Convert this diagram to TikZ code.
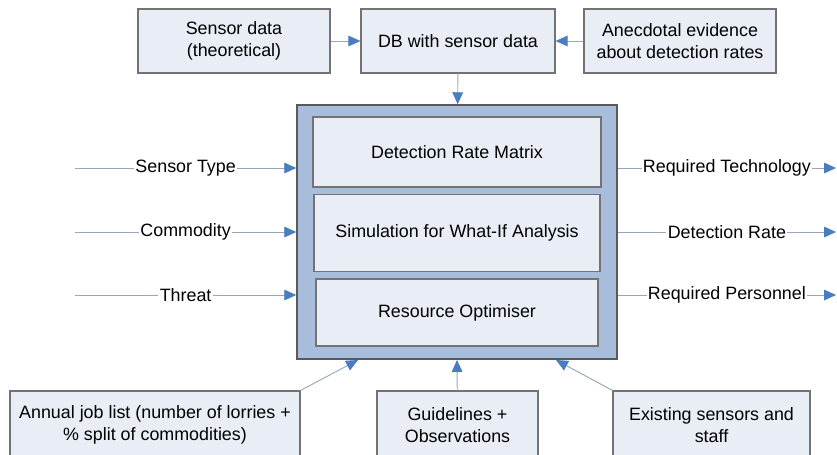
\documentclass[tikz,border=0pt]{standalone}
\usepackage{fontspec}
\setmainfont{Liberation Sans}
\usetikzlibrary{positioning,arrows.meta}
\definecolor{boxfill}{HTML}{E8EDF6}
\definecolor{outerfill}{HTML}{A8BCDC}
\definecolor{linegray}{HTML}{9AA6B6}
\definecolor{tipblue}{HTML}{4A7CC0}
\tikzset{
  box/.style={draw=black!55,fill=boxfill,line width=0.9pt,inner sep=0pt,align=center,font=\fontsize{13.4}{17}\selectfont},
  flow/.style={draw=linegray,line width=0.7pt,-{Triangle[length=9pt,width=8pt,color=tipblue]}},
  lbl/.style={fill=white,inner sep=1pt,font=\fontsize{13.4}{17}\selectfont}
}

\begin{document}
\begin{tikzpicture}[x=0.75pt,y=-0.75pt]
        \useasboundingbox (0,0) rectangle (837,454);
        \clip (0,0) rectangle (837,454);
        % sources on top
        \node(sensdata)[box,minimum width=144pt,minimum height=48pt] at (234,41) {Sensor data\\(theoretical)};
        \node(db)[box,minimum width=145.5pt,minimum height=48pt] at (458,41) {DB with sensor data};
        \node(anecdote)[box,minimum width=144pt,minimum height=48pt] at (680,41) {Anecdotal evidence\\about detection rates};
        % model
        \node(outer)[draw=black!65,fill=outerfill,line width=1.1pt,minimum width=240pt,minimum height=190.5pt] at (457,232) {};
        \node(drm)[box,minimum width=216pt,minimum height=52.5pt] at (457,152) {Detection Rate Matrix};
        \node(sim)[box,below =5pt of drm,minimum width=214.5pt,minimum height=57.75pt] {Simulation for What-If Analysis};
        \node(resopt)[box,below =4.5pt of sim,minimum width=211.5pt,minimum height=50.25pt] {Resource Optimiser};
        % inputs below (cut off by the lower edge)
        \node(annual)[box,minimum width=217.5pt,minimum height=51pt] at (155,425) {Annual job list (number of lorries +\\\% split of commodities)};
        \node(guide)[box,minimum width=120.75pt,minimum height=51pt] at (457.5,425) {Guidelines +\\Observations};
        \node(existing)[box,minimum width=147.75pt,minimum height=51pt] at (711.5,425) {Existing sensors and\\staff};
        \coordinate (inA) at (358,360);
        \coordinate (inB) at (457,360);
        \coordinate (inC) at (556,360);
        \coordinate (st) at (75,168);
        \coordinate (cm) at (75,232);
        \coordinate (th) at (75,295);
        \coordinate (rt) at (836,168);
        \coordinate (dr) at (836,232);
        \coordinate (rp) at (836,295);

        \draw[flow] (sensdata) -- (db);
        \draw[flow] (anecdote) -- (db);
        \draw[flow] (db) -- (outer);
        \draw[flow] (annual.north east) -- (inA);
        \draw[flow] (guide) -- (inB);
        \draw[flow] (existing.north west) -- (inC);
        \draw[flow] (st) -- node[lbl]{Sensor Type} (outer.west |- st);
        \draw[flow] (cm) -- node[lbl]{Commodity} (outer.west |- cm);
        \draw[flow] (th) -- node[lbl]{Threat} (outer.west |- th);
        \draw[flow] (outer.east |- rt) -- node[lbl]{Required Technology} (rt);
        \draw[flow] (outer.east |- dr) -- node[lbl]{Detection Rate} (dr);
        \draw[flow] (outer.east |- rp) -- node[lbl]{Required Personnel} (rp);
    \end{tikzpicture}
\end{document}
